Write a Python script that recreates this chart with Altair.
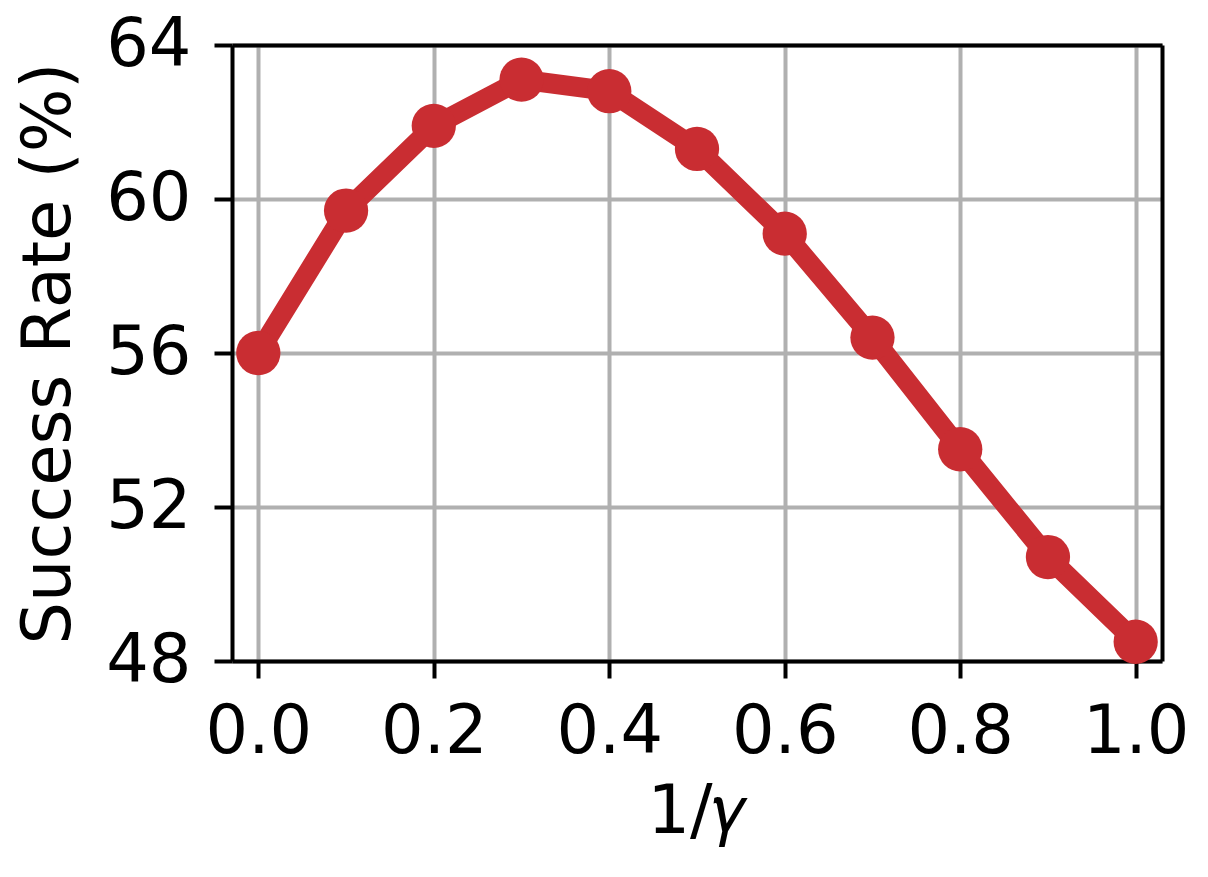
import altair as alt
import pandas as pd

inv_gamma = [0.0, 0.1, 0.2, 0.3, 0.4, 0.5, 0.6, 0.7, 0.8, 0.9, 1.0]
success = [56.0, 59.7, 61.9, 63.1, 62.8, 61.3, 59.1, 56.4, 53.5, 50.7, 48.5]
x_ticks = [0.0, 0.2, 0.4, 0.6, 0.8, 1.0]
y_ticks = [48, 52, 56, 60, 64]

df = pd.DataFrame({"x": inv_gamma, "y": success})
RED = "#c92d32"
FONT = "DejaVu Sans"
FS = 67

xscale = alt.Scale(domain=[-0.03, 1.03], nice=False, zero=False)
yscale = alt.Scale(domain=[48, 64], nice=False, zero=False)

line = alt.Chart(df).mark_line(color=RED, strokeWidth=20, clip=False).encode(
    x=alt.X("x:Q", title="1/𝛾", scale=xscale,
            axis=alt.Axis(orient="bottom", values=x_ticks, format=".1f",
                          labelFontSize=FS, titleFontSize=FS,
                          labelFont=FONT, titleFont=FONT, titleFontWeight="normal",
                          labelColor="black", titleColor="black",
                          tickSize=17, tickWidth=4, tickColor="black",
                          domain=True, domainColor="black", domainWidth=4,
                          labelPadding=21, titlePadding=14,
                          gridColor="#b0b0b0", gridWidth=4)),
    y=alt.Y("y:Q", title="Success Rate (%)", scale=yscale,
            axis=alt.Axis(orient="left", values=y_ticks,
                          labelFontSize=FS, titleFontSize=FS,
                          labelFont=FONT, titleFont=FONT, titleFontWeight="normal",
                          labelColor="black", titleColor="black",
                          tickSize=18, tickWidth=4, tickColor="black",
                          domain=True, domainColor="black", domainWidth=4,
                          labelPadding=23, titlePadding=22,
                          gridColor="#b0b0b0", gridWidth=4)),
)

points = alt.Chart(df).mark_circle(color=RED, size=1960, opacity=1, clip=False).encode(
    x=alt.X("x:Q", scale=xscale, axis=None),
    y=alt.Y("y:Q", scale=yscale, axis=None),
)

frame = alt.Chart(df).mark_point(opacity=0).encode(
    x=alt.X("x:Q", scale=xscale,
            axis=alt.Axis(orient="top", title=None, labels=False, ticks=False, grid=False,
                          domain=True, domainColor="black", domainWidth=4)),
    y=alt.Y("y:Q", scale=yscale,
            axis=alt.Axis(orient="right", title=None, labels=False, ticks=False, grid=False,
                          domain=True, domainColor="black", domainWidth=4)),
)

chart = alt.layer(line, points, frame).resolve_axis(
    x="independent", y="independent"
).properties(
    width=930, height=616,
    padding={"left": 224, "top": 37, "right": 38, "bottom": 208},
    autosize=alt.AutoSizeParams(type="none"),
).configure_view(stroke=None).configure(background="white")

chart.save("out.html", embed_options={"renderer": "svg", "actions": False})
